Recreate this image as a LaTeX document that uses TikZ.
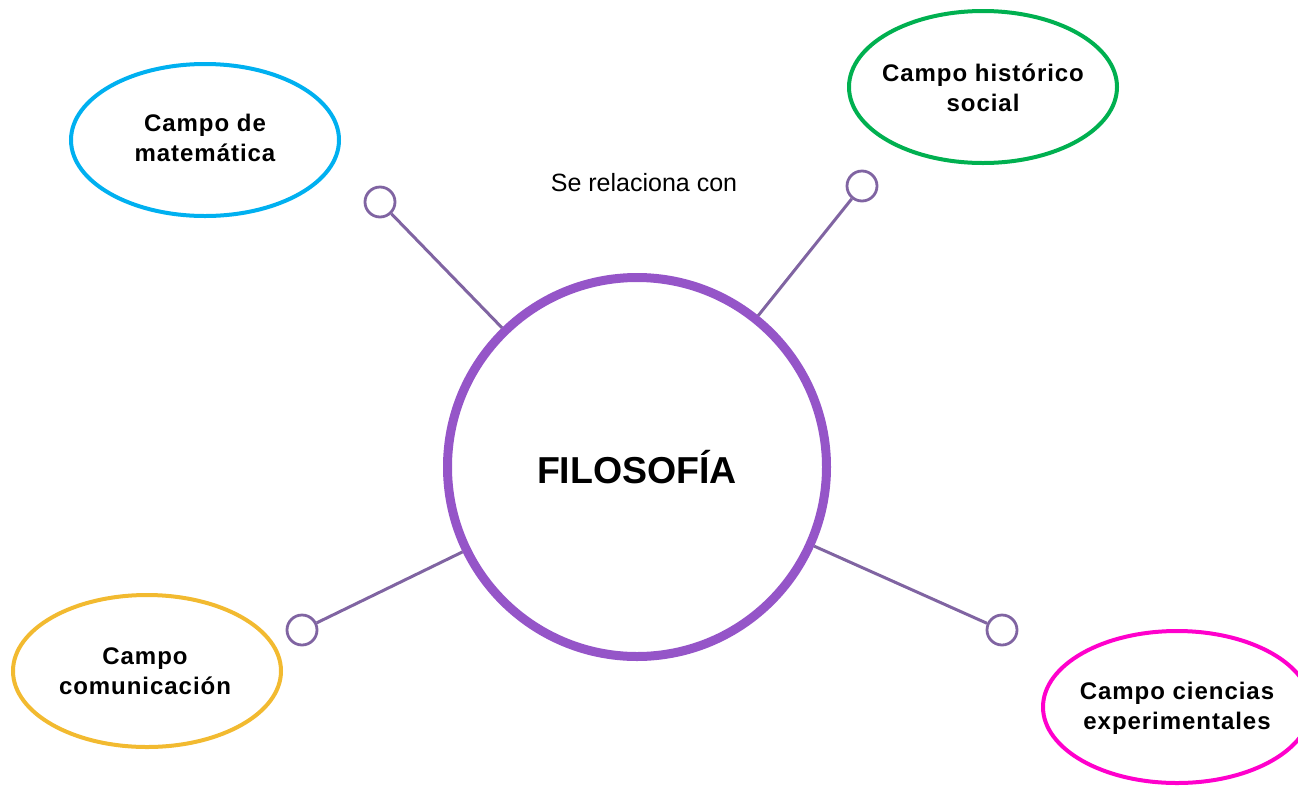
\documentclass[tikz,border=0pt]{standalone}
\usepackage{fontspec}
\setmainfont{Liberation Sans}
\newfontfamily\lblfont[LetterSpace=4]{Liberation Sans}
\usetikzlibrary{shapes.geometric}
\definecolor{cpurple}{HTML}{9555C8}
\definecolor{lpurple}{HTML}{8064A2}
\definecolor{mblue}{HTML}{00B0F0}
\definecolor{mgreen}{HTML}{00B050}
\definecolor{myellow}{HTML}{F2BA30}
\definecolor{mmagenta}{HTML}{FF00CC}
\tikzset{
  ell/.style={ellipse, line width=4pt, minimum width=268pt, minimum height=152pt, inner sep=0pt},
  lbl/.style={align=center, font=\lblfont\bfseries\fontsize{24pt}{30pt}\selectfont},
  dotc/.style={circle, draw=lpurple, line width=2.8pt, minimum size=30pt, inner sep=0pt, fill=white},
  conn/.style={draw=lpurple, line width=3pt},
}
\begin{document}
\begin{tikzpicture}[x=1pt,y=-1pt]
\useasboundingbox (0,0) rectangle (1298,785);
\node[circle, draw=cpurple, line width=9pt, minimum size=379pt, inner sep=0pt] (F) at (637,467) {};
\node[font=\bfseries\fontsize{37.5pt}{40pt}\selectfont] (Ft) at (637,467) {FILOSOFÍA};
\node[dotc] (s1) at (380,202) {};
\node[dotc] (s2) at (862,186) {};
\node[dotc] (s3) at (302,630) {};
\node[dotc] (s4) at (1002,630) {};
\draw[conn] (s1) -- (F);
\draw[conn] (s2) -- (F);
\draw[conn] (s3) -- (F);
\draw[conn] (s4) -- (F);
\node[ell, draw=mblue] (mat) at (205,140) {};
\node[lbl] (matt) at (205,138) {Campo de\\matemática};
\node[ell, draw=mgreen] (his) at (983,87) {};
\node[lbl] (hist) at (983,88) {Campo histórico\\social};
\node[ell, draw=myellow] (com) at (147,671) {};
\node[lbl] (comt) at (145,671) {Campo\\comunicación};
\node[ell, draw=mmagenta] (cie) at (1177,707) {};
\node[lbl] (ciet) at (1177,708) {Campo ciencias\\experimentales};
\node[font=\fontsize{25pt}{30pt}\selectfont] (rel) at (644,183) {Se relaciona con};
\end{tikzpicture}
\end{document}
